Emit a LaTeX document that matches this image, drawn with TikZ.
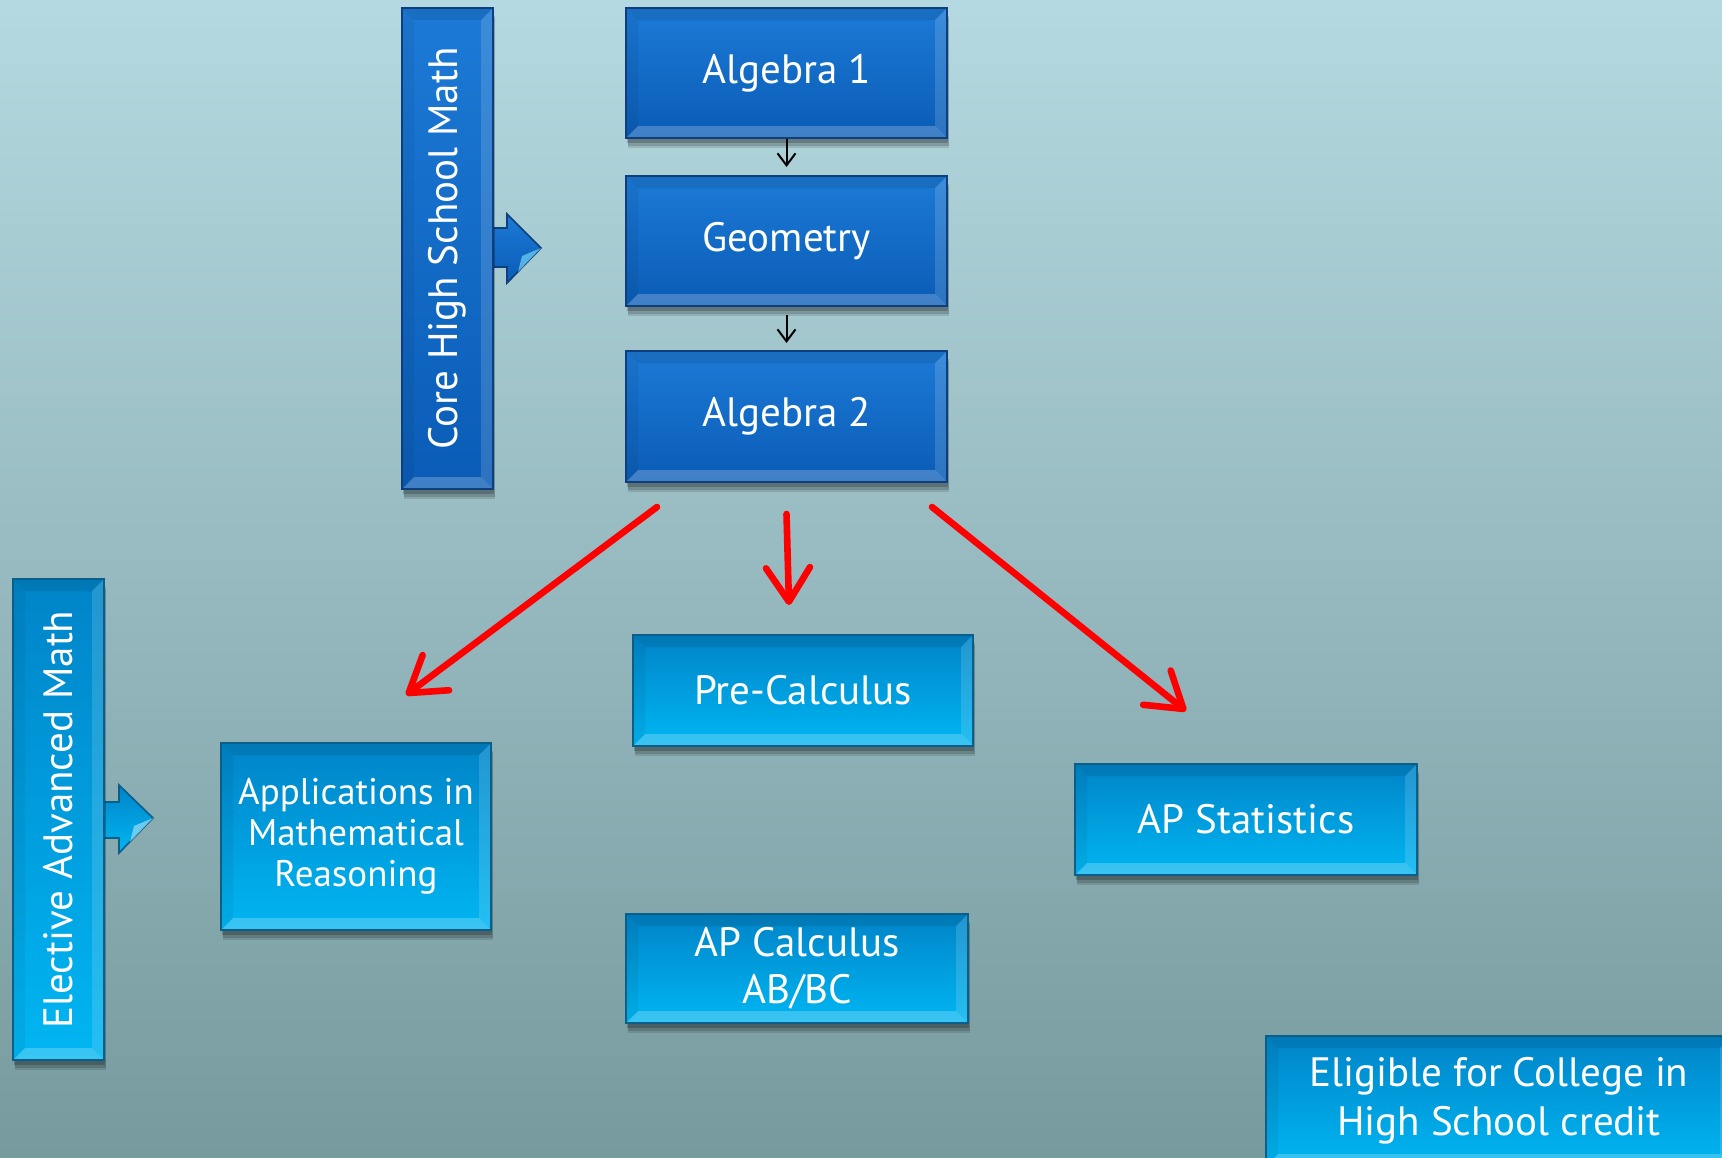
\documentclass[tikz,border=0pt]{standalone}
\usepackage{fontspec}
\usepackage{graphicx}
\setmainfont{PT Sans}
\usetikzlibrary{arrows.meta,shadows}
\definecolor{bgtop}{HTML}{B4D9E0}
\definecolor{bgbot}{HTML}{779A9E}
\definecolor{dktop}{HTML}{1C7AD6}
\definecolor{dkbot}{HTML}{0A5CB6}
\definecolor{dkline}{HTML}{0E3F7C}
\definecolor{lttop}{HTML}{0084C8}
\definecolor{ltbot}{HTML}{00B6F2}
\definecolor{ltline}{HTML}{0A5E8A}
\definecolor{redarrow}{HTML}{FF0000}
\tikzset{
  bevel/.style={path picture={
    \fill[black,opacity=0.09] (path picture bounding box.north west) -- (path picture bounding box.north east)
      -- ([xshift=-#1,yshift=-#1]path picture bounding box.north east) -- ([xshift=#1,yshift=-#1]path picture bounding box.north west) -- cycle;
    \fill[white,opacity=0.22] (path picture bounding box.south west) -- (path picture bounding box.south east)
      -- ([xshift=-#1,yshift=#1]path picture bounding box.south east) -- ([xshift=#1,yshift=#1]path picture bounding box.south west) -- cycle;
    \fill[black,opacity=0.05] (path picture bounding box.north west) -- (path picture bounding box.south west)
      -- ([xshift=#1,yshift=#1]path picture bounding box.south west) -- ([xshift=#1,yshift=-#1]path picture bounding box.north west) -- cycle;
    \fill[white,opacity=0.14] (path picture bounding box.north east) -- (path picture bounding box.south east)
      -- ([xshift=-#1,yshift=#1]path picture bounding box.south east) -- ([xshift=-#1,yshift=-#1]path picture bounding box.north east) -- cycle;
  }},
  boxshadow/.style={
    drop shadow={shadow xshift=1pt,shadow yshift=-5pt,opacity=0.12,fill=black},
    drop shadow={shadow xshift=1pt,shadow yshift=-4pt,opacity=0.15,fill=black},
    drop shadow={shadow xshift=0.5pt,shadow yshift=-2.5pt,opacity=0.2,fill=black}},
  darkbox/.style={rectangle, draw=dkline, line width=1pt, top color=dktop, bottom color=dkbot,
    boxshadow, bevel=6pt, text=white, font=\fontsize{20.5pt}{24pt}\selectfont, align=center, inner sep=0pt},
  lightbox/.style={rectangle, draw=ltline, line width=1pt, top color=lttop, bottom color=ltbot,
    boxshadow, bevel=6pt, text=white, font=\fontsize{20.5pt}{23.5pt}\selectfont, align=center, inner sep=0pt},
  redarr/.style={draw=redarrow, line width=3.3pt, line cap=round,
    -{Straight Barb[length=17pt,width=22pt,line cap=round,line join=round]}},
  blackarr/.style={draw=black, line width=1pt, -{Straight Barb[length=6pt,width=9pt]}},
  dkarrow/.style={draw=dkline, line width=0.8pt, top color=dktop, bottom color=dkbot},
  ltarrow/.style={draw=ltline, line width=0.8pt, top color=lttop, bottom color=ltbot},
}
\begin{document}
\begin{tikzpicture}[x=0.5pt,y=-0.5pt]
\useasboundingbox (0,0) rectangle (1722,1157);
\clip (0,0) rectangle (1722,1157);
\fill[top color=bgtop, bottom color=bgbot] (0,0) rectangle (1722,1157);

% block arrows
\path[dkarrow] (470,228) -- (507,228) -- (507,214) -- (541,248) -- (507,283) -- (507,267) -- (470,267) -- cycle;
\fill[cyan!55!white,opacity=0.7] (541,248) -- (518,272) -- (522,256) -- cycle;
\path[ltarrow] (88,802) -- (119,802) -- (119,785) -- (153,818) -- (119,853) -- (119,838) -- (88,838) -- cycle;
\fill[cyan!40!white,opacity=0.7] (153,818) -- (130,842) -- (134,826) -- cycle;

% vertical bars
\node[darkbox, minimum width=45.5pt, minimum height=240.5pt] (core) at (447.5,248.5)
  {\rotatebox{90}{Core High School Math}};
\node[lightbox, minimum width=45.5pt, minimum height=240.5pt] (elective) at (58.5,819.5)
  {\rotatebox{90}{Elective Advanced Math}};

% core boxes
\node[darkbox, minimum width=160.5pt, minimum height=65pt] (alg1) at (786.5,73) {Algebra 1};
\node[darkbox, minimum width=160.5pt, minimum height=65pt] (geom) at (786.5,241) {Geometry};
\node[darkbox, minimum width=160.5pt, minimum height=65.5pt] (alg2) at (786.5,416.5) {Algebra 2};

% elective boxes
\node[lightbox, minimum width=135pt, minimum height=93.5pt, font=\fontsize{18.5pt}{20.5pt}\selectfont] (apps) at (356,836.5)
  {Applications in\\Mathematical\\Reasoning};
\node[lightbox, minimum width=170pt, minimum height=55.5pt] (precalc) at (803,690.5) {Pre-Calculus};
\node[lightbox, minimum width=171pt, minimum height=55.5pt] (apstat) at (1246,819.5) {AP Statistics};
\node[lightbox, minimum width=171pt, minimum height=54.5pt] (apcalc) at (797,968.5) {AP Calculus\\AB/BC};
\node[lightbox, minimum width=233pt, minimum height=65pt, font=\fontsize{20.5pt}{24.7pt}\selectfont] (eligible) at (1499,1101)
  {Eligible for College in\\High School credit};

% black arrows
\draw[blackarr, shorten >=4pt] (alg1.south) -- (geom.north);
\draw[blackarr, shorten <=4pt, shorten >=3.5pt] (geom.south) -- (alg2.north);

% red arrows
\draw[redarr] ([shift={(32,24)}]alg2.south west) -- ([shift={(50,-47)}]apps.north);
\draw[redarr] ([shift={(0,31)}]alg2.south) -- ([shift={(-14,-29)}]precalc.north);
\draw[redarr] ([shift={(-16,24)}]alg2.south east) -- ([shift={(-60,-52)}]apstat.north);
\end{tikzpicture}
\end{document}
